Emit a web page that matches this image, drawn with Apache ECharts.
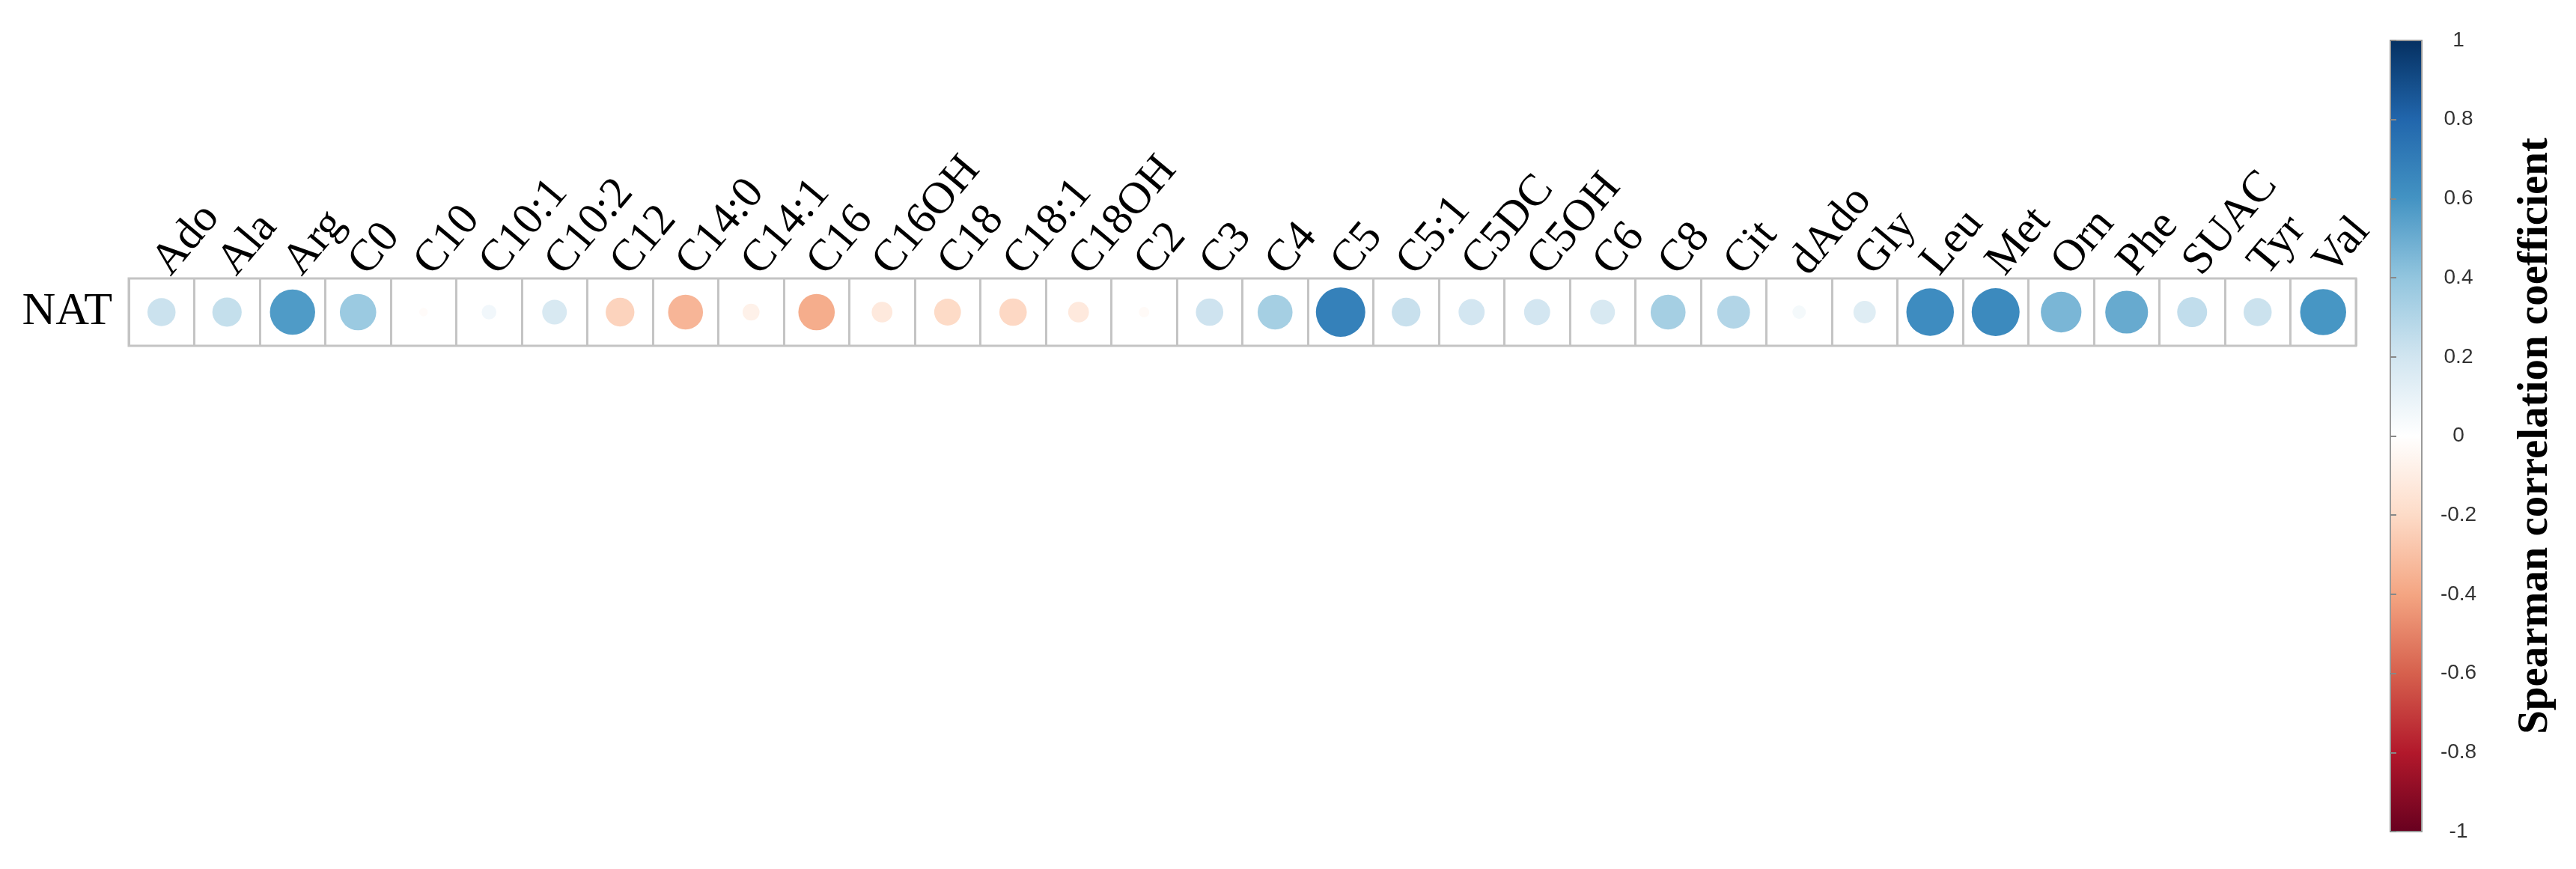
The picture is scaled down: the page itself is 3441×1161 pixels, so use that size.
<!DOCTYPE html>
<html>
<head>
<meta charset="utf-8">
<title>NAT correlation</title>
<script src="https://cdn.jsdelivr.net/npm/echarts@6/dist/echarts.min.js"></script>
<style>
  html, body { margin: 0; padding: 0; background: #fff; }
  #chart-corr { width: 3441px; height: 1161px; }
</style>
</head>
<body>
<div id="chart-corr"></div>
<script>
// metabolites (columns) and the single row
const metabolites = ["Ado", "Ala", "Arg", "C0", "C10", "C10:1", "C10:2", "C12", "C14:0", "C14:1",
  "C16", "C16OH", "C18", "C18:1", "C18OH", "C2", "C3", "C4", "C5", "C5:1", "C5DC", "C5OH",
  "C6", "C8", "Cit", "dAdo", "Gly", "Leu", "Met", "Orn", "Phe", "SUAC", "Tyr", "Val"];
const rows = ["NAT"];
// spearman r
const rhoNAT = [0.22, 0.24, 0.57, 0.37, -0.02, 0.06, 0.17, -0.23, -0.34, -0.08,
  -0.37, -0.12, -0.2, -0.21, -0.12, -0.03, 0.21, 0.34, 0.68, 0.23, 0.19, 0.19,
  0.17, 0.34, 0.3, 0.05, 0.14, 0.63, 0.64, 0.46, 0.51, 0.25, 0.22, 0.59];
// RdBu, from -1 to 1
const rdbu = ["#67001F", "#B2182B", "#D6604D", "#F4A582", "#FDDBC7", "#FFFFFF",
  "#D1E5F0", "#92C5DE", "#4393C3", "#2166AC", "#053061"];
const barTicks = [-1, -0.8, -0.6, -0.4, -0.2, 0, 0.2, 0.4, 0.6, 0.8, 1];

let chart = echarts.init(document.getElementById("chart-corr"));

let points = rhoNAT.map((v, i) => [i, 0, v]);
// colorbar gradient, top = +1
let stops = rdbu.map((c, i) => ({ offset: 1 - i / (rdbu.length - 1), color: c }));

chart.setOption({
  backgroundColor: "#fff",
  animation: false,
  grid: [
    {
      left: 172, top: 372, width: 2975, height: 90,
      show: true, borderColor: "#c4c4c4", borderWidth: 3,
    },
    {
      // colorbar
      left: 3193, top: 54, width: 42, height: 1057,
      show: true, borderColor: "#9a9a9a", borderWidth: 2,
      backgroundColor: new echarts.graphic.LinearGradient(0, 0, 0, 1, stops),
    },
  ],
  visualMap: {
    show: false,
    type: "continuous",
    min: -1, max: 1,
    dimension: 2,
    seriesIndex: 0,
    inRange: { color: rdbu },
  },
  xAxis: [
    {
      type: "category",
      gridIndex: 0,
      position: "top",
      data: metabolites,
      boundaryGap: true,
      axisLine: { show: false },
      axisTick: { show: false },
      axisLabel: {
        interval: 0,
        rotate: -50,
        margin: 12,
        color: "#000",
        fontSize: 60,
        fontFamily: "Liberation Serif",
      },
      splitLine: { show: true, interval: 0, lineStyle: { color: "#c4c4c4", width: 3 } },
    },
    { type: "value", gridIndex: 1, show: false, min: 0, max: 1 },
  ],
  yAxis: [
    {
      type: "category",
      gridIndex: 0,
      data: rows,
      axisLine: { show: false },
      axisTick: { show: false },
      splitLine: { show: false },
      axisLabel: {
        margin: 22,
        color: "#000",
        fontSize: 62,
        fontFamily: "Liberation Serif",
      },
    },
    {
      type: "value",
      gridIndex: 1,
      position: "right",
      min: -1, max: 1, interval: 0.2,
      axisLine: { show: true, lineStyle: { color: "#9a9a9a", width: 2 } },
      axisTick: { show: true, length: 8, lineStyle: { color: "#888", width: 2 } },
      splitLine: { show: false },
      axisLabel: {
        margin: 49,
        align: "center",
        color: "#333",
        fontSize: 28,
        fontFamily: "Liberation Sans",
        formatter: function (v) {
          let t = barTicks.find((b) => Math.abs(b - v) < 1e-6);
          return t === undefined ? "" : String(t);
        },
      },
      name: "Spearman correlation coefficient",
      nameLocation: "middle",
      nameRotate: 90,
      nameGap: 124,
      nameTextStyle: {
        color: "#000",
        fontSize: 57,
        fontWeight: "bold",
        fontFamily: "Liberation Serif",
      },
    },
  ],
  series: [
    {
      type: "scatter",
      xAxisIndex: 0,
      yAxisIndex: 0,
      data: points,
      symbol: "circle",
      symbolSize: function (d) {
        return 80 * Math.sqrt(Math.abs(d[2]));
      },
      itemStyle: { opacity: 1 },
    },
  ],
});
</script>
</body>
</html>
